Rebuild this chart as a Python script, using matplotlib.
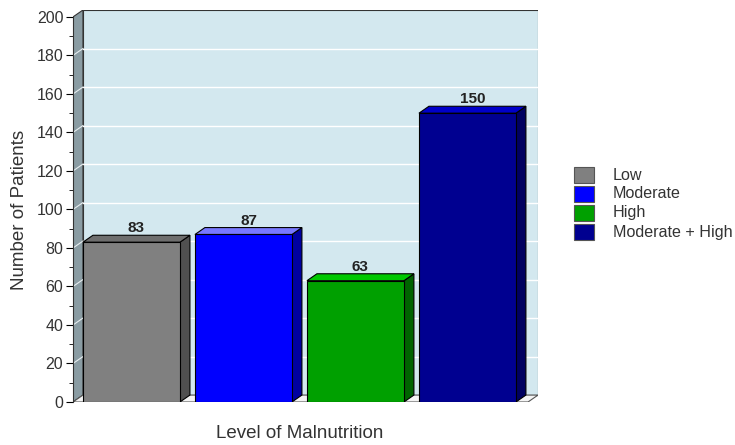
import matplotlib.pyplot as plt
from matplotlib.patches import Polygon, Rectangle

plt.rcParams['font.family'] = ['Liberation Sans', 'DejaVu Sans']

# Patients per malnutrition level
levels = ["Low", "Moderate", "High", "Moderate + High"]
patients = [83, 87, 63, 150]

# front / top / side shades of each bar
front_colors = ["#808080", "#0000ff", "#00a000", "#000090"]
top_colors = ["#6e6e6e", "#7878ff", "#00c800", "#0000c8"]
side_colors = ["#505050", "#0000a0", "#006400", "#000060"]

y_max = 200
dx, dy = 0.089, 3.6          # 3D depth offset in data units
x_left, x_right = -0.522, 3.63
bar_w = 0.866

fig = plt.figure(figsize=(7.35, 4.45), dpi=100)
ax = fig.add_axes([73 / 735, (445 - 402) / 445, (538 - 73) / 735, (402 - 10) / 445])
ax.set_xlim(x_left, x_right)
ax.set_ylim(0, y_max + dy)

wall = "#d3e8ef"
# back wall
ax.add_patch(Rectangle((x_left + dx, dy), x_right - x_left - dx, y_max,
                       facecolor=wall, edgecolor="#333333", lw=0.8, zorder=1))
# left wall
ax.add_patch(Polygon([(x_left, 0), (x_left + dx, dy), (x_left + dx, y_max + dy), (x_left, y_max)],
                     facecolor="#8a9ca3", edgecolor="#333333", lw=0.8, zorder=1))
# floor
ax.add_patch(Polygon([(x_left, 0), (x_right - dx, 0), (x_right, dy), (x_left + dx, dy)],
                     facecolor="#f4f4f4", edgecolor="#555555", lw=0.8, zorder=1))

# gridlines on the walls
for t in range(20, y_max, 20):
    ax.plot([x_left + dx, x_right], [t + dy, t + dy], color="white", lw=1.0, zorder=2)
    ax.plot([x_left, x_left + dx], [t, t + dy], color="#e8eef0", lw=0.8, zorder=2)

for i, (v, fc, tc, sc) in enumerate(zip(patients, front_colors, top_colors, side_colors)):
    x0 = i - bar_w / 2
    x1 = i + bar_w / 2
    ax.add_patch(Polygon([(x1, 0), (x1 + dx, dy), (x1 + dx, v + dy), (x1, v)],
                         facecolor=sc, edgecolor="black", lw=0.8, zorder=3))
    ax.add_patch(Polygon([(x0, v), (x1, v), (x1 + dx, v + dy), (x0 + dx, v + dy)],
                         facecolor=tc, edgecolor="black", lw=0.8, zorder=3))
    ax.add_patch(Rectangle((x0, 0), bar_w, v, facecolor=fc, edgecolor="black", lw=0.8, zorder=4))
    ax.text(i + dx / 2, v + dy, str(v), ha="center", va="bottom",
            fontsize=11, fontweight="bold", color="#222222", zorder=5)

for s in ["top", "right", "bottom"]:
    ax.spines[s].set_visible(False)
ax.spines["left"].set_bounds(0, y_max)
ax.spines["left"].set_color("#333333")
ax.set_xticks([])
ax.set_yticks(range(0, y_max + 1, 20))
ax.set_yticks(range(10, y_max, 20), minor=True)
ax.tick_params(axis="y", which="major", length=5, labelsize=11.5, labelcolor="#333333", pad=2)
ax.tick_params(axis="y", which="minor", length=3)

fig.text(20 / 735, 1 - 210 / 445, "Number of Patients", rotation=90, ha="center", va="center",
         fontsize=13.5, color="#333333")
fig.text(300 / 735, 1 - 433 / 445, "Level of Malnutrition", ha="center", va="center",
         fontsize=13.5, color="#333333")

# legend
for k, (name, fc) in enumerate(zip(levels, front_colors)):
    yc = 175 + 19 * k
    fig.patches.append(Rectangle((574 / 735, 1 - (yc + 8) / 445), 20 / 735, 16 / 445,
                                 transform=fig.transFigure, facecolor=fc,
                                 edgecolor="#555555", lw=0.8))
    fig.text(613 / 735, 1 - yc / 445, name, ha="left", va="center", fontsize=11.6,
             color="#333333")

fig.savefig("out.png", dpi=100)
